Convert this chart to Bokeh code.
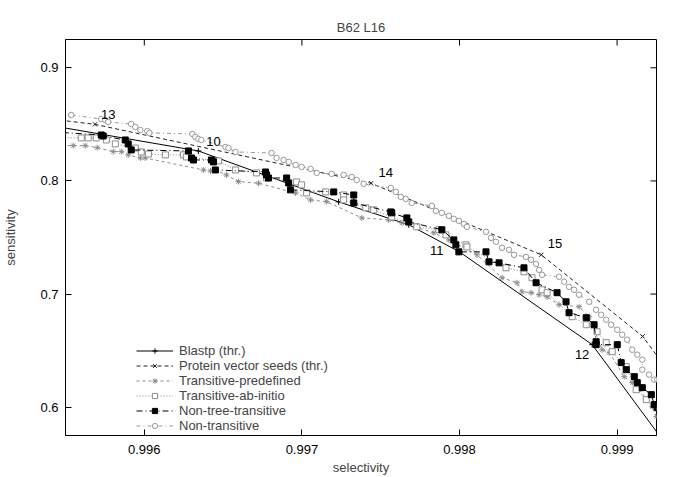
from bokeh.plotting import figure
from bokeh.models import (Range1d, FixedTicker, PrintfTickFormatter,
                          Legend, LegendItem)
from bokeh.core.properties import value
from bokeh.embed import file_html
from bokeh.resources import INLINE

FONT = "Liberation Sans"

# ---------------- data ----------------
blastp_x = [0.99533, 0.996343, 0.997233, 0.997678, 0.998000, 0.998842, 0.999395]
blastp_y = [0.8508, 0.8265, 0.7815, 0.7612, 0.7373, 0.6553, 0.5511]

pvs_x = [0.995199, 0.995687, 0.997439, 0.998519, 0.999162, 0.999395]
pvs_y = [0.8582, 0.8500, 0.7980, 0.7347, 0.6626, 0.6185]

tpre_x = [0.995400, 0.995549, 0.995625, 0.995701, 0.995803, 0.995854, 0.995898, 0.995975,
          0.996006, 0.996375, 0.996420, 0.996451, 0.996521, 0.996598, 0.996725, 0.996960,
          0.997055, 0.997157, 0.997380, 0.997551, 0.997634, 0.997837, 0.997933, 0.998111,
          0.998270, 0.998365, 0.998397, 0.998454, 0.998505, 0.998556, 0.998632, 0.998759,
          0.998823, 0.998905, 0.998950, 0.999045, 0.999096, 0.999140, 0.999223, 0.999249]
tpre_y = [0.8318, 0.8312, 0.8312, 0.8294, 0.8259, 0.8259, 0.8230, 0.8203,
          0.8203, 0.8097, 0.8088, 0.8097, 0.8053, 0.7994, 0.7980, 0.7894,
          0.7832, 0.7817, 0.7673, 0.7656, 0.7629, 0.7541, 0.7479, 0.7347,
          0.7144, 0.7100, 0.7020, 0.7012, 0.6994, 0.6976, 0.6906, 0.6888,
          0.6800, 0.6508, 0.6482, 0.6270, 0.6217, 0.6155, 0.6005, 0.5917]

tab_x = [0.995400, 0.995600, 0.995644, 0.995695, 0.995759, 0.995816, 0.995943, 0.995981,
         0.996026, 0.996134, 0.996248, 0.996267, 0.996471, 0.996579, 0.996712, 0.996776,
         0.996966, 0.996998, 0.997030, 0.997151, 0.997265, 0.997265, 0.997405, 0.997456,
         0.997570, 0.997729, 0.997869, 0.997914, 0.998041, 0.998047, 0.998295, 0.998409,
         0.998460, 0.998524, 0.998556, 0.998715, 0.998804, 0.998873, 0.998931, 0.998969,
         0.999058, 0.999121, 0.999185, 0.999255]
tab_y = [0.8385, 0.8380, 0.8380, 0.8380, 0.8362, 0.8327, 0.8291, 0.8256,
         0.8238, 0.8230, 0.8230, 0.8212, 0.8177, 0.8097, 0.8071, 0.8026,
         0.7991, 0.7965, 0.7894, 0.7903, 0.7876, 0.7832, 0.7762, 0.7744,
         0.7682, 0.7594, 0.7568, 0.7523, 0.7435, 0.7417, 0.7232, 0.7197,
         0.7144, 0.7038, 0.7012, 0.6800, 0.6729, 0.6667, 0.6570, 0.6491,
         0.6358, 0.6155, 0.6067, 0.5996]

ntt_x = [0.995400, 0.995727, 0.995739, 0.995879, 0.995898, 0.995917, 0.996280, 0.996299,
         0.996312, 0.996426, 0.996439, 0.996451, 0.996769, 0.996776, 0.996788, 0.996903,
         0.996916, 0.996928, 0.997202, 0.997329, 0.997329, 0.997564, 0.997570, 0.997666,
         0.997678, 0.997888, 0.997964, 0.997977, 0.997996, 0.998168, 0.998187, 0.998251,
         0.998409, 0.998486, 0.998619, 0.998676, 0.998695, 0.998804, 0.998854, 0.998867,
         0.998867, 0.999001, 0.999026, 0.999058, 0.999109, 0.999128, 0.999160, 0.999217,
         0.999236, 0.999255]
ntt_y = [0.8435, 0.8406, 0.8397, 0.8362, 0.8327, 0.8274, 0.8265, 0.8203,
         0.8185, 0.8185, 0.8168, 0.8097, 0.8079, 0.8053, 0.8026, 0.8026,
         0.7982, 0.7921, 0.7903, 0.7876, 0.7806, 0.7726, 0.7718, 0.7673,
         0.7638, 0.7568, 0.7479, 0.7435, 0.7373, 0.7373, 0.7285, 0.7276,
         0.7232, 0.7100, 0.7012, 0.6932, 0.6835, 0.6791, 0.6729, 0.6579,
         0.6553, 0.6553, 0.6394, 0.6332, 0.6270, 0.6217, 0.6173, 0.6111,
         0.6023, 0.5996]

nt_x = [0.995400, 0.995536, 0.995727, 0.995752, 0.995771, 0.995917, 0.995943, 0.995975,
        0.996019, 0.996032, 0.996305, 0.996324, 0.996343, 0.996362, 0.996515, 0.996534,
        0.996579, 0.996807, 0.996839, 0.996884, 0.996916, 0.996960, 0.996998, 0.997055,
        0.997094, 0.997189, 0.997265, 0.997316, 0.997348, 0.997392, 0.997564, 0.997596,
        0.997628, 0.997659, 0.997697, 0.997825, 0.997850, 0.997888, 0.997933, 0.997964,
        0.997996, 0.998028, 0.998047, 0.998168, 0.998200, 0.998231, 0.998270, 0.998314,
        0.998346, 0.998422, 0.998454, 0.998486, 0.998505, 0.998524, 0.998632, 0.998664,
        0.998695, 0.998727, 0.998759, 0.998823, 0.998867, 0.998899, 0.998931, 0.998962,
        0.999001, 0.999032, 0.999064, 0.999096, 0.999128, 0.999160, 0.999160, 0.999203,
        0.999236, 0.999255]
nt_y = [0.8590, 0.8583, 0.8547, 0.8538, 0.8521, 0.8503, 0.8477, 0.8450,
        0.8441, 0.8424, 0.8415, 0.8388, 0.8371, 0.8362, 0.8300, 0.8291,
        0.8256, 0.8247, 0.8203, 0.8185, 0.8168, 0.8141, 0.8124, 0.8106,
        0.8071, 0.8062, 0.8053, 0.8035, 0.8009, 0.7974, 0.7938, 0.7903,
        0.7859, 0.7841, 0.7806, 0.7779, 0.7735, 0.7718, 0.7691, 0.7665,
        0.7647, 0.7620, 0.7594, 0.7550, 0.7497, 0.7462, 0.7409, 0.7391,
        0.7347, 0.7329, 0.7303, 0.7267, 0.7214, 0.7170, 0.7153, 0.7109,
        0.7064, 0.7038, 0.6994, 0.6932, 0.6861, 0.6817, 0.6773, 0.6729,
        0.6685, 0.6641, 0.6597, 0.6508, 0.6464, 0.6420, 0.6332, 0.6288,
        0.6244, 0.6244]

thr_labels = ["13", "10", "14", "11", "15", "12"]
thr_x = [0.995771, 0.996439, 0.997532, 0.997856, 0.998606, 0.998778]
thr_y = [0.8591, 0.8347, 0.8071, 0.7382, 0.7444, 0.6464]

x_ticks = [0.996, 0.997, 0.998, 0.999]
y_ticks = [0.6, 0.7, 0.8, 0.9]

X0, X1 = 0.9955, 0.99925
Y0, Y1 = 0.575, 0.925
FW, FH = 591, 396
TICK = 6  # px

# ---------------- figure ----------------
p = figure(frame_width=FW, frame_height=FH,
           min_border_left=59, min_border_right=15, min_border_top=39, min_border_bottom=36,
           x_range=Range1d(X0, X1), y_range=Range1d(Y0, Y1),
           output_backend="svg", toolbar_location=None, title="B62 L16")
p.title.align = "center"
p.title.text_font = FONT
p.title.text_font_size = "13px"
p.title.text_font_style = "normal"
p.grid.visible = False
p.outline_line_color = "black"
p.outline_line_width = 1
p.background_fill_color = "white"
p.border_fill_color = "white"

for ax in (p.xaxis[0], p.yaxis[0]):
    ax.major_tick_in = TICK
    ax.major_tick_out = 0
    ax.minor_tick_line_color = None
    ax.axis_line_color = "black"
    ax.major_tick_line_color = "black"
    ax.major_label_text_font = FONT
    ax.major_label_text_font_size = "13px"
    ax.axis_label_text_font = FONT
    ax.axis_label_text_font_size = "13px"
    ax.axis_label_text_font_style = "normal"
    ax.major_label_text_color = "black"

p.xaxis[0].ticker = FixedTicker(ticks=x_ticks)
p.xaxis[0].formatter = PrintfTickFormatter(format="%.3f")
p.xaxis[0].axis_label = "selectivity"
p.xaxis[0].major_label_standoff = 9
p.xaxis[0].axis_label_standoff = 3
p.yaxis[0].ticker = FixedTicker(ticks=y_ticks)
p.yaxis[0].formatter = PrintfTickFormatter(format="%.1f")
p.yaxis[0].axis_label = "sensitivity"
p.yaxis[0].major_label_standoff = 7
p.yaxis[0].major_label_orientation = "horizontal"
p.yaxis[0].axis_label_standoff = 19

# mirrored inward ticks on top and right frame edges
tx = (X1 - X0) / FW * TICK
ty = (Y1 - Y0) / FH * TICK
p.segment(x0=x_ticks, y0=[Y1] * len(x_ticks), x1=x_ticks, y1=[Y1 - ty] * len(x_ticks),
          line_color="black", line_width=1)
p.segment(x0=[X1] * len(y_ticks), y0=y_ticks, x1=[X1 - tx] * len(y_ticks), y1=y_ticks,
          line_color="black", line_width=1)

GRAY = "#8c8c8c"
MS = 6

def series(xs, ys, color, dash, marker, fill, size=MS):
    l = p.line(xs, ys, line_color=color, line_width=1, line_dash=dash)
    s = p.scatter(xs, ys, marker=marker, size=size, line_color=color,
                  fill_color=fill, line_width=1)
    return [l, s]

r_blast = series(blastp_x, blastp_y, "black", "solid", "cross", None)
r_pvs = series(pvs_x, pvs_y, "#222222", "4 3", "x", None)
r_tpre = series(tpre_x, tpre_y, GRAY, "3 3", "asterisk", None)
r_tab = series(tab_x, tab_y, GRAY, "1 2", "square", "white")
r_ntt = series(ntt_x, ntt_y, "black", "6 3 1 3", "square", "black")
r_nt = series(nt_x, nt_y, "#999999", "4 3 1 3", "circle", "white", 5.5)

p.text(x=thr_x, y=thr_y, text=thr_labels, text_align="center", text_baseline="middle",
       text_font=value(FONT), text_font_size="13px", text_color="black")

legend = Legend(items=[
    LegendItem(label="Blastp (thr.)", renderers=r_blast),
    LegendItem(label="Protein vector seeds (thr.)", renderers=r_pvs),
    LegendItem(label="Transitive-predefined", renderers=r_tpre),
    LegendItem(label="Transitive-ab-initio", renderers=r_tab),
    LegendItem(label="Non-tree-transitive", renderers=r_ntt),
    LegendItem(label="Non-transitive", renderers=r_nt),
], location=(71, 2))
legend.background_fill_alpha = 0
legend.border_line_color = None
legend.label_text_font = FONT
legend.label_text_font_size = "13px"
legend.label_height = 13
legend.glyph_height = 13
legend.glyph_width = 37
legend.spacing = 0
legend.padding = 0
legend.margin = 0
legend.label_standoff = 6
p.add_layout(legend, "center")

open("out.html", "w").write(file_html(p, INLINE))
